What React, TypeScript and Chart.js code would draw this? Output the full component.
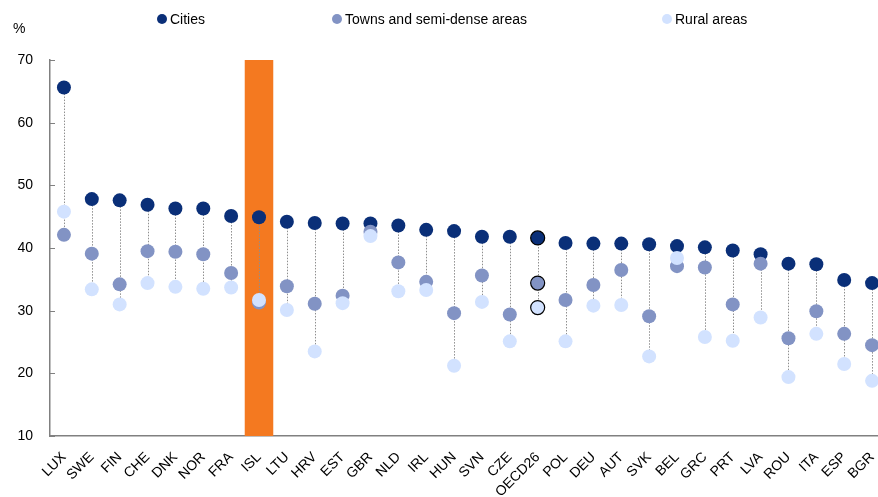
import React, { useEffect, useRef } from 'react';
import { Chart, registerables } from 'chart.js';

Chart.register(...registerables);

const categories = ['LUX','SWE','FIN','CHE','DNK','NOR','FRA','ISL','LTU','HRV','EST','GBR','NLD','IRL','HUN','SVN','CZE','OECD26','POL','DEU','AUT','SVK','BEL','GRC','PRT','LVA','ROU','ITA','ESP','BGR'];
const cities = [65.6,47.8,47.6,46.9,46.3,46.3,45.1,44.9,44.2,44.0,43.9,43.9,43.6,42.9,42.7,41.8,41.8,41.6,40.8,40.7,40.7,40.6,40.3,40.1,39.6,39.0,37.5,37.4,34.9,34.4];
const towns = [42.1,39.1,34.2,39.5,39.4,39.0,36.0,31.3,33.9,31.1,32.4,42.6,37.7,34.6,29.6,35.6,29.4,34.4,31.7,34.1,36.5,29.1,37.1,36.9,31.0,37.5,25.6,29.9,26.3,24.5];
const rural = [45.8,33.4,31.0,34.4,33.8,33.5,33.7,31.7,30.1,23.5,31.2,41.9,33.1,33.3,21.2,31.4,25.1,30.5,25.1,30.8,30.9,22.7,38.4,25.8,25.2,28.9,19.4,26.3,21.5,18.8];
const highlighted = 'ISL';
const average = 'OECD26';
const yMin = 10;
const yMax = 70;
const yStep = 10;
const seriesNames = ['Cities', 'Towns and semi-dense areas', 'Rural areas'];

const C_CITY = '#0A2F78';
const C_TOWN = '#8293C4';
const C_RURAL = '#D2E2FF';
const C_ORANGE = '#F47920';
const FONT = "'Liberation Sans', Arial, sans-serif";

const rangeLines = {
  id: 'rangeLines',
  afterDatasetDraw(chart: any, args: any) {
    if (args.index !== 0) return;
    const { ctx, scales } = chart;
    const xs = scales.x, ys = scales.y;
    ctx.save();
    ctx.strokeStyle = '#8f8f8f';
    ctx.lineWidth = 1;
    ctx.setLineDash([1.5, 1.5]);
    categories.forEach((c, i) => {
      const vals = [cities[i], towns[i], rural[i]];
      const hi = Math.max(...vals), lo = Math.min(...vals);
      const x = Math.round(xs.getPixelForValue(i)) + 0.5;
      ctx.beginPath();
      ctx.moveTo(x, ys.getPixelForValue(hi));
      ctx.lineTo(x, ys.getPixelForValue(lo));
      ctx.stroke();
    });
    ctx.restore();
  },
  afterDraw(chart: any) {
    const { ctx, scales, chartArea } = chart;
    const ys = scales.y;
    ctx.save();
    ctx.strokeStyle = '#808080';
    ctx.lineWidth = 1;
    ys.ticks.forEach((t: any) => {
      const y = Math.round(ys.getPixelForValue(t.value)) + 0.5;
      ctx.beginPath();
      ctx.moveTo(chartArea.left, y);
      ctx.lineTo(chartArea.left + 5, y);
      ctx.stroke();
    });
    ctx.restore();
  },
};

export default function App() {
  const ref = useRef<HTMLCanvasElement | null>(null);
  useEffect(() => {
    if (!ref.current) return;
    const borderCol = (base: string) => categories.map((c) => (c === average ? '#000' : base));
    const borderW = categories.map((c) => (c === average ? 1.2 : 0));
    const pointDs = (label: string, data: number[], color: string, order: number) => ({
      type: 'line' as const,
      label,
      data,
      showLine: false,
      pointRadius: 7,
      pointHoverRadius: 7,
      pointBackgroundColor: color,
      pointBorderColor: borderCol(color),
      pointBorderWidth: borderW,
      backgroundColor: color,
      borderColor: color,
      order,
    });
    const chart = new Chart(ref.current, {
      data: {
        labels: categories,
        datasets: [
          {
            type: 'bar' as const,
            label: 'highlight',
            data: categories.map((c) => (c === highlighted ? yMax : null)),
            backgroundColor: C_ORANGE,
            barPercentage: 1,
            categoryPercentage: 1,
            base: yMin,
            order: 10,
          } as any,
          pointDs(seriesNames[0], cities, C_CITY, 3),
          pointDs(seriesNames[1], towns, C_TOWN, 2),
          pointDs(seriesNames[2], rural, C_RURAL, 1),
        ],
      },
      options: {
        animation: false,
        responsive: false,
        events: [],
        layout: { padding: { top: 60, left: 0, right: 0, bottom: 0 } },
        plugins: { legend: { display: false }, tooltip: { enabled: false } },
        scales: {
          x: {
            offset: true,
            grid: { display: false, drawTicks: false },
            border: { color: '#808080', width: 1.5 },
            ticks: {
              autoSkip: false,
              maxRotation: 45,
              minRotation: 45,
              padding: 13,
              color: '#000',
              font: { family: FONT, size: 14 },
            },
            afterFit: (s: any) => { s.height = 61; s.paddingLeft = 0; s.paddingRight = 0; },
          },
          y: {
            min: yMin,
            max: yMax,
            grid: { display: false, drawTicks: false },
            border: { color: '#808080', width: 1.5 },
            ticks: {
              stepSize: yStep,
              padding: 17,
              color: '#000',
              font: { family: FONT, size: 14 },
            },
            afterFit: (s: any) => { s.width = 50; },
          },
        },
      },
      plugins: [rangeLines],
    });
    return () => chart.destroy();
  }, []);

  const legendItems = [
    { name: seriesNames[0], color: C_CITY, x: 162 },
    { name: seriesNames[1], color: C_TOWN, x: 337 },
    { name: seriesNames[2], color: C_RURAL, x: 667 },
  ];
  const textStyle: React.CSSProperties = {
    position: 'absolute',
    fontFamily: FONT,
    fontSize: 14,
    lineHeight: '16px',
    color: '#000',
    whiteSpace: 'nowrap',
  };
  return (
    <div style={{ position: 'fixed', left: 0, top: 0, width: 878, height: 497, overflow: 'hidden', background: '#fff' }}>
      <canvas ref={ref} width={893} height={497} style={{ position: 'absolute', left: 0, top: 0, width: 893, height: 497 }} />
      <div style={{ ...textStyle, left: 13, top: 20 }}>%</div>
      {legendItems.map((it) => (
        <React.Fragment key={it.name}>
          <div style={{ position: 'absolute', left: it.x - 5, top: 14, width: 10, height: 10, borderRadius: '50%', background: it.color }} />
          <div style={{ ...textStyle, left: it.x + 8, top: 11 }}>{it.name}</div>
        </React.Fragment>
      ))}
    </div>
  );
}
